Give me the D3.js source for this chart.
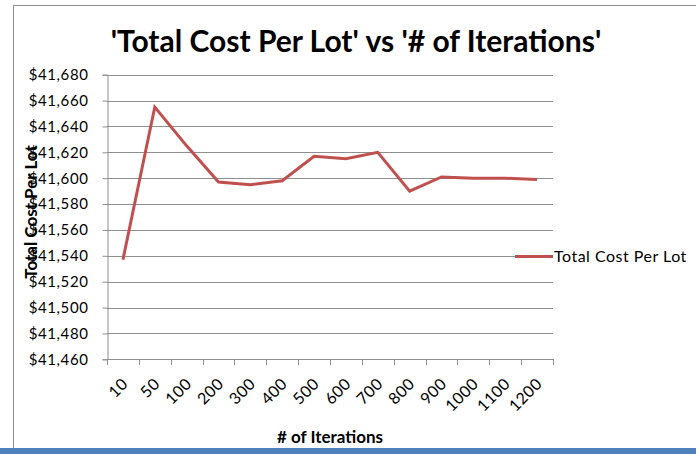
<!DOCTYPE html>
<html>
<head>
<meta charset="utf-8">
<script src="https://cdn.jsdelivr.net/npm/d3@7"></script>
<style>
  body { margin: 0; background: #fff; }
  svg { display: block; font-family: Lato, "Open Sans", sans-serif; }
</style>
</head>
<body>
<div id="graph"></div>
<script>
// chart values
var iterations = ["10", "50", "100", "200", "300", "400", "500", "600", "700", "800", "900", "1000", "1100", "1200"];
var costPerLot = [41537, 41655, 41625, 41597, 41595, 41598, 41617, 41615, 41620, 41590, 41601, 41600, 41600, 41599];
var yTicks = [41460, 41480, 41500, 41520, 41540, 41560, 41580, 41600, 41620, 41640, 41660, 41680];

var width = 696, height = 454;
var plotLeft = 107, plotRight = 553, plotTop = 74.7, plotBottom = 359.3;

var svg = d3.select("#graph").append("svg")
    .attr("width", width)
    .attr("height", height);

// frame
svg.append("path")
    .attr("d", "M13.5," + height + "V5.5H" + width)
    .attr("fill", "none")
    .attr("stroke", "#8c8c8c");
svg.append("rect")
    .attr("x", 0).attr("y", 448)
    .attr("width", width).attr("height", 6)
    .attr("fill", "#4f81bd");

var x = d3.scaleBand().domain(iterations).range([plotLeft, plotRight]);
var y = d3.scaleLinear().domain([41460, 41680]).range([plotBottom, plotTop]);

// gridlines
svg.append("g")
    .selectAll("line")
    .data(yTicks)
    .enter().append("line")
    .attr("x1", plotLeft).attr("x2", plotRight)
    .attr("y1", d => Math.round(y(d)) + 0.5)
    .attr("y2", d => Math.round(y(d)) + 0.5)
    .attr("stroke", "#8f8f8f");

// y axis
var yAxis = svg.append("g")
    .attr("transform", "translate(" + (plotLeft + 0.5) + ",0)")
    .call(d3.axisLeft(y).tickValues(yTicks).tickSize(5).tickPadding(14)
      .tickFormat(d => "$" + d3.format(",")(d)));
yAxis.select(".domain").attr("stroke", "#8f8f8f");
yAxis.selectAll(".tick line").attr("stroke", "#8f8f8f");
yAxis.selectAll("text")
    .attr("font-size", 15)
    .attr("font-family", "Lato, sans-serif")
    .attr("letter-spacing", "0.6px")
    .attr("fill", "#000");

// x axis, ticks on category boundaries
var bounds = iterations.map(d => x(d)).concat([plotRight]);
var xAxis = svg.append("g");
xAxis.append("line")
    .attr("x1", plotLeft).attr("x2", plotRight)
    .attr("y1", Math.round(plotBottom) + 0.5).attr("y2", Math.round(plotBottom) + 0.5)
    .attr("stroke", "#8f8f8f");
xAxis.selectAll(".xt")
    .data(bounds)
    .enter().append("line")
    .attr("class", "xt")
    .attr("x1", d => Math.round(d) + 0.5).attr("x2", d => Math.round(d) + 0.5)
    .attr("y1", Math.round(plotBottom)).attr("y2", Math.round(plotBottom) + 6)
    .attr("stroke", "#8f8f8f");
xAxis.selectAll("text")
    .data(iterations)
    .enter().append("text")
    .attr("transform", d => "translate(" + (x(d) + x.bandwidth() / 2 + 6) + ",385) rotate(-45)")
    .attr("text-anchor", "end")
    .attr("font-size", 16)
    .attr("letter-spacing", "0.4px")
    .text(d => d);

// the series
var line = d3.line()
    .x((d, i) => x(iterations[i]) + x.bandwidth() / 2)
    .y(d => y(d));
svg.append("path")
    .datum(costPerLot)
    .attr("d", line)
    .attr("fill", "none")
    .attr("stroke", "#c0504d")
    .attr("stroke-width", 3)
    .attr("stroke-linejoin", "miter");

// titles
svg.append("text")
    .attr("x", 356).attr("y", 52)
    .attr("text-anchor", "middle")
    .attr("font-size", 30)
    .attr("font-weight", "bold")
    .text("'Total Cost Per Lot' vs '# of Iterations'");

svg.append("text")
    .attr("transform", "translate(37,212) rotate(-90)")
    .attr("text-anchor", "middle")
    .attr("font-size", 17)
    .attr("font-weight", "bold")
    .text("Total Cost Per Lot");

svg.append("text")
    .attr("x", 330).attr("y", 443)
    .attr("text-anchor", "middle")
    .attr("font-size", 17)
    .attr("font-weight", "bold")
    .text("# of Iterations");

// legend
var legend = svg.append("g").attr("transform", "translate(515," + (Math.round(y(41540)) + 0.5) + ")");
legend.append("line")
    .attr("x1", 0).attr("x2", 38)
    .attr("stroke", "#c0504d").attr("stroke-width", 3);
legend.append("text")
    .attr("x", 39).attr("dy", "0.35em")
    .attr("font-size", 16)
    .attr("letter-spacing", "0.5px")
    .text("Total Cost Per Lot");
</script>
</body>
</html>
